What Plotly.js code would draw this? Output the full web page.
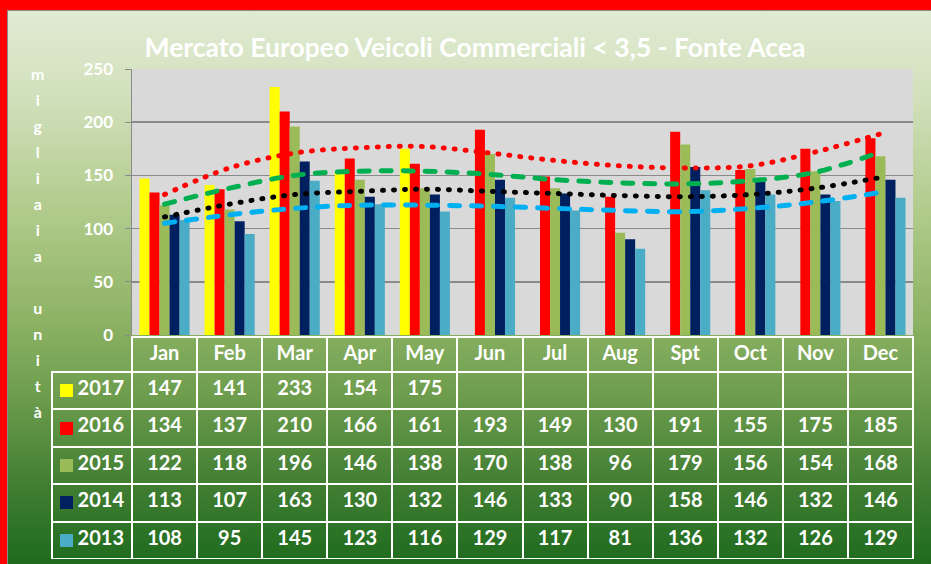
<!DOCTYPE html>
<html>
<head>
<meta charset="utf-8">
<script src="https://cdn.plot.ly/plotly-3.0.1.min.js"></script>
<style>
  html, body { margin: 0; padding: 0; width: 931px; height: 564px; overflow: hidden; background: #ff0000; }
  #bg {
    position: absolute; left: 7px; top: 10px; width: 924px; height: 554px;
    border-top: 1px solid #8a8a8a; border-left: 1px solid #8a8a8a; box-sizing: border-box;
    background: linear-gradient(to bottom, #e0ebd3 0%, #d2e1bd 15%, #b3cc8e 35%, #8fb466 55%, #6c9c4c 70%, #437f34 85%, #1e6b1d 100%);
  }
  #chart { position: absolute; left: 0; top: 0; width: 931px; height: 564px; }
  #chart .scatterlayer path.js-line { stroke-linecap: round; }
</style>
</head>
<body>
<div id="bg"></div>
<div id="chart"></div>
<script>
// months shown in the table header
const months = ['Jan', 'Feb', 'Mar', 'Apr', 'May', 'Jun', 'Jul', 'Aug', 'Spt', 'Oct', 'Nov', 'Dec']

// sales, thousands of units
const years = ['2017', '2016', '2015', '2014', '2013']
const v2017 = [147, 141, 233, 154, 175, null, null, null, null, null, null, null]
const v2016 = [134, 137, 210, 166, 161, 193, 149, 130, 191, 155, 175, 185]
const v2015 = [122, 118, 196, 146, 138, 170, 138, 96, 179, 156, 154, 168]
const v2014 = [113, 107, 163, 130, 132, 146, 133, 90, 158, 146, 132, 146]
const v2013 = [108, 95, 145, 123, 116, 129, 117, 81, 136, 132, 126, 129]

// trend lines at each month
const trend2016 = [132, 157, 171, 176, 177, 171, 164, 159, 157, 159, 172, 189]
const trend2015 = [123, 138, 150, 154, 154, 151, 146, 143, 142, 145, 153, 172]
const trend2014 = [111, 123, 132, 135, 137, 135, 133, 131, 130, 132, 138, 148]
const trend2013 = [105, 113, 119, 122, 122, 121, 119, 117, 116, 119, 125, 134]

const colors = ['#ffff00', '#ff0000', '#9bbb59', '#002060', '#4bacc6']
const series = [v2017, v2016, v2015, v2014, v2013]

const W = 931, H = 564
const font = 'Lato, "Open Sans", sans-serif'

let traces = []
for (let i = 0; i < series.length; i++) {
    traces.push({
        type: 'bar',
        name: years[i],
        x: months,
        y: series[i],
        marker: {color: colors[i], line: {width: 0}},
        showlegend: false,
        hoverinfo: 'skip'
    })
}

function trend(y, color, dash) {
    return {
        type: 'scatter',
        mode: 'lines',
        x: months,
        y: y,
        line: {color: color, width: 5, dash: dash, shape: 'spline', smoothing: 1},
        showlegend: false,
        hoverinfo: 'skip'
    }
}
traces.push(trend(trend2016, '#ff0000', '1px,10px'))
traces.push(trend(trend2015, '#00b050', '10px,12px'))
traces.push(trend(trend2014, '#000000', '1px,10px'))
traces.push(trend(trend2013, '#00b0f0', '10px,12px'))

// data table under the plot
const tableTop = 337, tableBottom = 559, headH = 35, rowH = 37.4
let cols = [years]
for (let m = 0; m < months.length; m++) {
    cols.push(series.map(s => s[m] == null ? '' : String(s[m])))
}
let headerLine = ['rgba(0,0,0,0)'].concat(months.map(() => 'white'))

traces.push({
    type: 'table',
    domain: {x: [52 / W, 913 / W], y: [(H - tableBottom) / H, (H - tableTop) / H]},
    columnwidth: [80].concat(months.map(() => 65.08)),
    header: {
        values: [''].concat(months),
        height: headH,
        align: 'center',
        fill: {color: 'rgba(0,0,0,0)'},
        line: {color: headerLine, width: 2},
        font: {family: font, size: 20, color: 'white', weight: 'bold'}
    },
    cells: {
        values: cols,
        height: rowH,
        align: ['right'].concat(months.map(() => 'center')),
        fill: {color: 'rgba(0,0,0,0)'},
        line: {color: 'white', width: 2},
        font: {family: font, size: 20, color: 'white', weight: 'bold'}
    }
})

const vertical = 'm i g l i a i a \u00a0 u n i t à'.split(' ')
    .map(c => '<span style="font-size:16px">' + c + '</span>').join('<br>')

let annotations = [{
    text: vertical,
    xref: 'paper', yref: 'paper',
    x: 37 / W, y: 1 - 242.5 / H,
    xanchor: 'center', yanchor: 'middle',
    showarrow: false,
    font: {family: font, size: 20, color: 'white', weight: 'bold'}
}]

// colour keys in the table's first column
for (let i = 0; i < years.length; i++) {
    let cy = tableTop + headH + rowH * (i + 0.5)
    annotations.push({
        text: '\u00a0',
        xref: 'paper', yref: 'paper',
        x: 66.5 / W, y: 1 - cy / H,
        xanchor: 'center', yanchor: 'middle',
        width: 13, height: 13,
        bgcolor: colors[i],
        borderpad: 0, borderwidth: 0,
        showarrow: false,
        font: {size: 8}
    })
}

const layout = {
    width: W,
    height: H,
    margin: {l: 0, r: 0, t: 0, b: 0},
    paper_bgcolor: 'rgba(0,0,0,0)',
    plot_bgcolor: '#d9d9d9',
    barmode: 'group',
    bargap: 0.23,
    bargroupgap: 0,
    title: {
        text: 'Mercato Europeo Veicoli Commerciali < 3,5 - Fonte Acea',
        x: 475 / W, xanchor: 'center', xref: 'paper',
        y: 1 - 48 / H, yanchor: 'middle', yref: 'paper',
        font: {family: font, size: 26.5, color: 'white', weight: 'bold'}
    },
    xaxis: {
        domain: [132 / W, 913 / W],
        showticklabels: false,
        ticks: '',
        showgrid: false,
        zeroline: false,
        showline: false,
        fixedrange: true
    },
    yaxis: {
        domain: [229 / H, 495 / H],
        range: [0, 250],
        dtick: 50,
        showgrid: true,
        gridcolor: '#8a8a8a',
        gridwidth: 1.5,
        zeroline: false,
        showline: true,
        linecolor: '#8a8a8a',
        linewidth: 1.5,
        ticks: 'outside',
        ticklen: 6,
        tickcolor: '#8a8a8a',
        ticklabelstandoff: 8,
        tickfont: {family: font, size: 17, color: 'white', weight: 'bold'},
        fixedrange: true
    },
    annotations: annotations
}

Plotly.newPlot('chart', traces, layout, {displayModeBar: false, staticPlot: true})
</script>
</body>
</html>
